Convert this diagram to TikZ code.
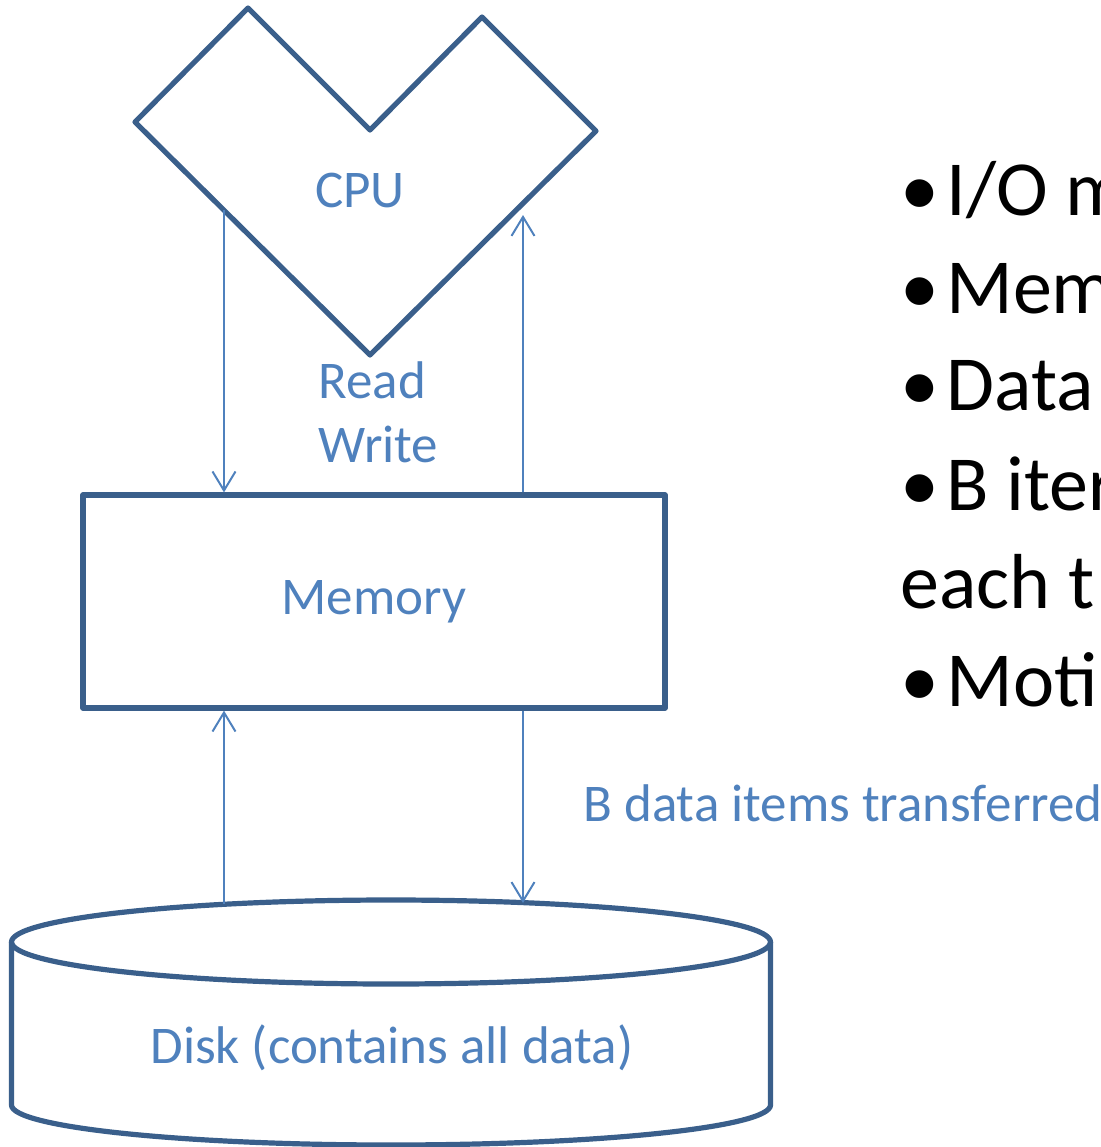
\documentclass[tikz,border=0pt]{standalone}
\usepackage{fontspec}
\setmainfont{Carlito}
\usetikzlibrary{arrows.meta, positioning}
\definecolor{boxblue}{HTML}{3A5F8B}
\definecolor{textblue}{HTML}{4F81BD}
\newcommand{\itemdot}{\makebox[23pt][l]{•}}

\begin{document}
\begin{tikzpicture}[
    x=0.5pt, y=-0.5pt,
    part/.style={draw=boxblue, line width=2.6pt, line join=round},
    tag/.style={text=textblue, font=\fontsize{26.5}{32}\selectfont, inner sep=0pt},
    point/.style={text=black, font=\fontsize{39}{49}\selectfont, inner sep=0pt, anchor=base west},
    arrow/.style={draw=textblue, line width=1pt, -{Straight Barb[length=9.5pt, width=11.5pt, line width=1pt]}}
]
% page frame, text on the right runs off the edge
\useasboundingbox (0,0) rectangle (1101,1147);
\clip (0,0) rectangle (1101,1147);

% CPU
\draw[part] (135,122) -- (248,8) -- (370,130) -- (482,17) -- (596,131) -- (370,355) -- cycle;
\node[tag] (cpu) at (360,190) {CPU};

% Memory
\node[part, tag, minimum width=291pt, minimum height=106.5pt] (mem) at (374,601.5) {Memory};

% Disk
\draw[part] (391,942) ellipse[x radius=379.5, y radius=42];
\draw[part] (11.5,942) -- (11.5,1105) arc[start angle=180, end angle=0, x radius=379.5, y radius=40] -- (770.5,942);
\node[tag] (disk) at (392,1048) {Disk (contains all data)};

% Labels
\node[tag, align=left, anchor=west] (rw) at (318,412) {Read\\Write};
\node[tag, anchor=base west] (xfer) at (583,821) {B data items transferred};

% Arrows
\coordinate (cpuL) at (224,210);
\coordinate (cpuR) at (523,215);
\coordinate (diskL) at (224,904);
\coordinate (diskR) at (523,903);
\draw[arrow] (cpuL) -- (cpuL |- mem.north);
\draw[arrow] (mem.north -| cpuR) -- (cpuR);
\draw[arrow] (diskL) -- (diskL |- mem.south);
\draw[arrow] (mem.south -| diskR) -- (diskR);

% Bullet points
\node[point] (io) at (900,215) {\itemdot I/O m};
\node[point] (memsize) at (900,313) {\itemdot Mem};
\node[point] (data) at (900,410) {\itemdot Data};
\node[point] (bitems) at (900,510) {\itemdot B iter};
\node[point] (each) at (900,608) {each t};
\node[point] (moti) at (900,706) {\itemdot Moti};

\end{tikzpicture}
\end{document}
